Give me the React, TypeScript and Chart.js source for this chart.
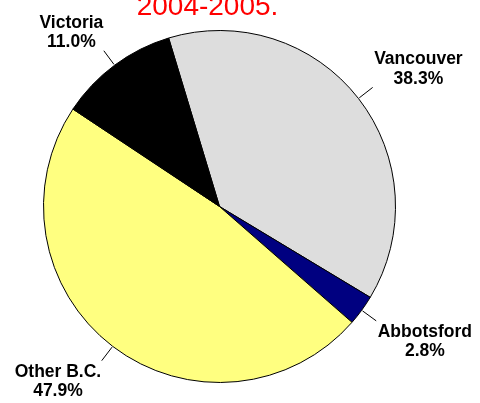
import React, { useEffect, useRef } from "react";
import { Chart, registerables } from "chart.js";

Chart.register(...registerables);

const categories = ["Vancouver", "Abbotsford", "Other B.C.", "Victoria"];
const shares = [38.3, 2.8, 47.9, 11.0];
const shareLabels = ["38.3%", "2.8%", "47.9%", "11.0%"];
const sliceColors = ["#DDDDDD", "#000080", "#FFFF80", "#000000"];
const titleText = "2004-2005.";

const labelPlugin = {
  id: "outerLabels",
  afterDraw(chart: any) {
    const ctx = chart.ctx;
    const meta = chart.getDatasetMeta(0);
    ctx.save();
    // title
    ctx.font = "28px 'Liberation Sans', Arial, sans-serif";
    ctx.fillStyle = "#FF0000";
    ctx.textAlign = "center";
    ctx.textBaseline = "alphabetic";
    ctx.fillText(titleText, 207.5, 15);

    ctx.font = "bold 17.5px 'Liberation Sans', Arial, sans-serif";
    meta.data.forEach((arc: any, i: number) => {
      const mid = (arc.startAngle + arc.endAngle) / 2;
      const r = arc.outerRadius;
      const cx = arc.x;
      const cy = arc.y;
      const x1 = cx + Math.cos(mid) * (r + 1);
      const y1 = cy + Math.sin(mid) * (r + 1);
      const x2 = cx + Math.cos(mid) * (r + 18);
      const y2 = cy + Math.sin(mid) * (r + 18);
      ctx.strokeStyle = "#000000";
      ctx.lineWidth = 1;
      ctx.beginPath();
      ctx.moveTo(x1, y1);
      ctx.lineTo(x2, y2);
      ctx.stroke();

      const lines = [categories[i], shareLabels[i]];
      const w = Math.max(...lines.map((t) => ctx.measureText(t).width));
      const right = Math.cos(mid) >= 0;
      const below = Math.sin(mid) >= 0;
      const centerX = right ? x2 + 1.5 + w / 2 : x2 - 0.5 - w / 2;
      const base1 = below ? y2 + 16 : y2 - 4 - 19;
      ctx.fillStyle = "#000000";
      ctx.textAlign = "center";
      ctx.fillText(lines[0], centerX, base1);
      ctx.fillText(lines[1], centerX, base1 + 19.5);
    });
    ctx.restore();
  },
};

function PieChart() {
  const ref = useRef<HTMLCanvasElement>(null);
  useEffect(() => {
    if (!ref.current) return;
    const chart = new Chart(ref.current, {
      type: "pie",
      data: {
        labels: categories,
        datasets: [
          {
            data: shares,
            backgroundColor: sliceColors,
            borderColor: "#000000",
            borderWidth: 1,
          },
        ],
      },
      options: {
        responsive: false,
        animation: false,
        rotation: -16.8,
        layout: { padding: { left: 43, right: 84, top: 30, bottom: 20 } },
        plugins: {
          legend: { display: false },
          title: { display: false },
          tooltip: { enabled: false },
        },
      },
      plugins: [labelPlugin],
    });
    return () => chart.destroy();
  }, []);
  return <canvas ref={ref} width={480} height={403} style={{ display: "block" }} />;
}

export default function App() {
  return (
    <div style={{ position: "fixed", left: 0, top: 0, width: 480, height: 403, background: "#FFFFFF" }}>
      <PieChart />
    </div>
  );
}
